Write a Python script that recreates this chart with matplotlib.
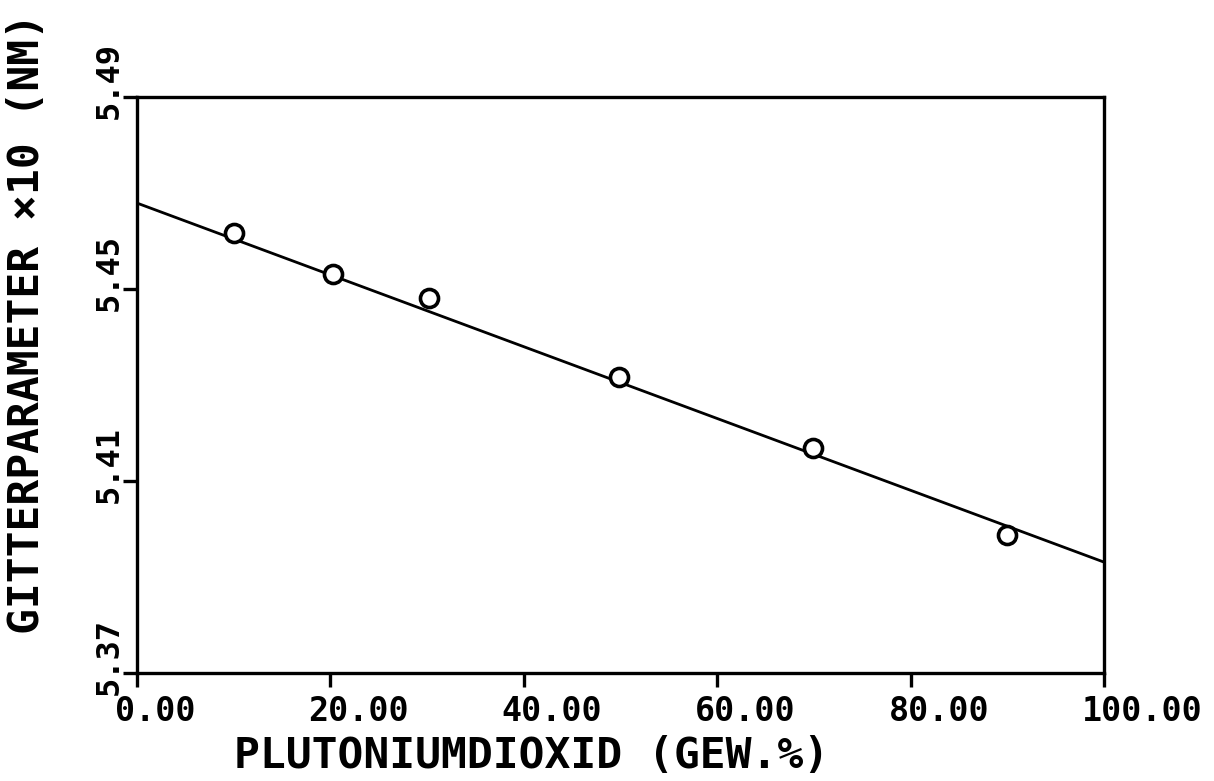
import matplotlib
matplotlib.use("Agg")
import matplotlib.pyplot as plt
import matplotlib.transforms as mtransforms
import numpy as np

# PuO2 content (wt.%) and measured lattice parameter (x10 nm)
puo2_pct = [10.0, 20.3, 30.2, 49.8, 69.9, 90.0]
lattice = [5.4617, 5.4531, 5.4481, 5.4317, 5.4169, 5.3988]

# regression line as drawn in the original (end points at 0 and 100 %)
fit_x = [0.0, 100.0]
fit_y = [5.4679, 5.3931]

x_ticks = [0, 20, 40, 60, 80, 100]
y_ticks = [5.37, 5.41, 5.45, 5.49]

plt.rcParams['font.family'] = ['DejaVu Sans Mono', 'DejaVu Sans']
plt.rcParams['font.weight'] = 'bold'

W, H = 1214, 781
fig = plt.figure(figsize=(W / 100, H / 100), dpi=100)
ax = fig.add_axes([137 / W, 1 - 673 / H, (1104 - 137) / W, (673 - 97) / H])

ax.plot(fit_x, fit_y, color='black', lw=2.0, solid_capstyle='butt', zorder=2)
ax.plot(puo2_pct, lattice, linestyle='none', marker='o', markersize=13,
        markerfacecolor='white', markeredgecolor='black', markeredgewidth=2.6,
        zorder=3)

ax.set_xlim(0, 100)
ax.set_ylim(5.37, 5.49)

for s in ax.spines.values():
    s.set_linewidth(2.4)

ax.set_xticks(x_ticks)
ax.set_xticklabels([f"{v:.2f}" for v in x_ticks], fontsize=24, ha='left')
ax.set_yticks(y_ticks)
ax.set_yticklabels([f"{v:.2f}" for v in y_ticks], fontsize=23, rotation=90,
                   va='center', ha='right')
ax.tick_params(axis='x', direction='out', length=10, width=2.4, pad=6)
ax.tick_params(axis='y', direction='out', length=10, width=2.4, pad=-1)

# shift labels like the plotter output
dx = mtransforms.ScaledTranslation(-0.22, 0, fig.dpi_scale_trans)
for lab in ax.get_xticklabels():
    lab.set_transform(lab.get_transform() + dx)
dy = mtransforms.ScaledTranslation(0, 0.165, fig.dpi_scale_trans)
for lab in ax.get_yticklabels():
    lab.set_transform(lab.get_transform() + dy)

fig.text(531.5 / W, 1 - 768 / H, "PLUTONIUMDIOXID (GEW.%)", fontsize=31,
         ha='center', va='baseline')
fig.text(27.5 / W, 1 - 324 / H, "GITTERPARAMETER \u00d710 (NM)", fontsize=31,
         rotation=90, ha='center', va='center')

fig.savefig("out.png", dpi=100, facecolor='white')
